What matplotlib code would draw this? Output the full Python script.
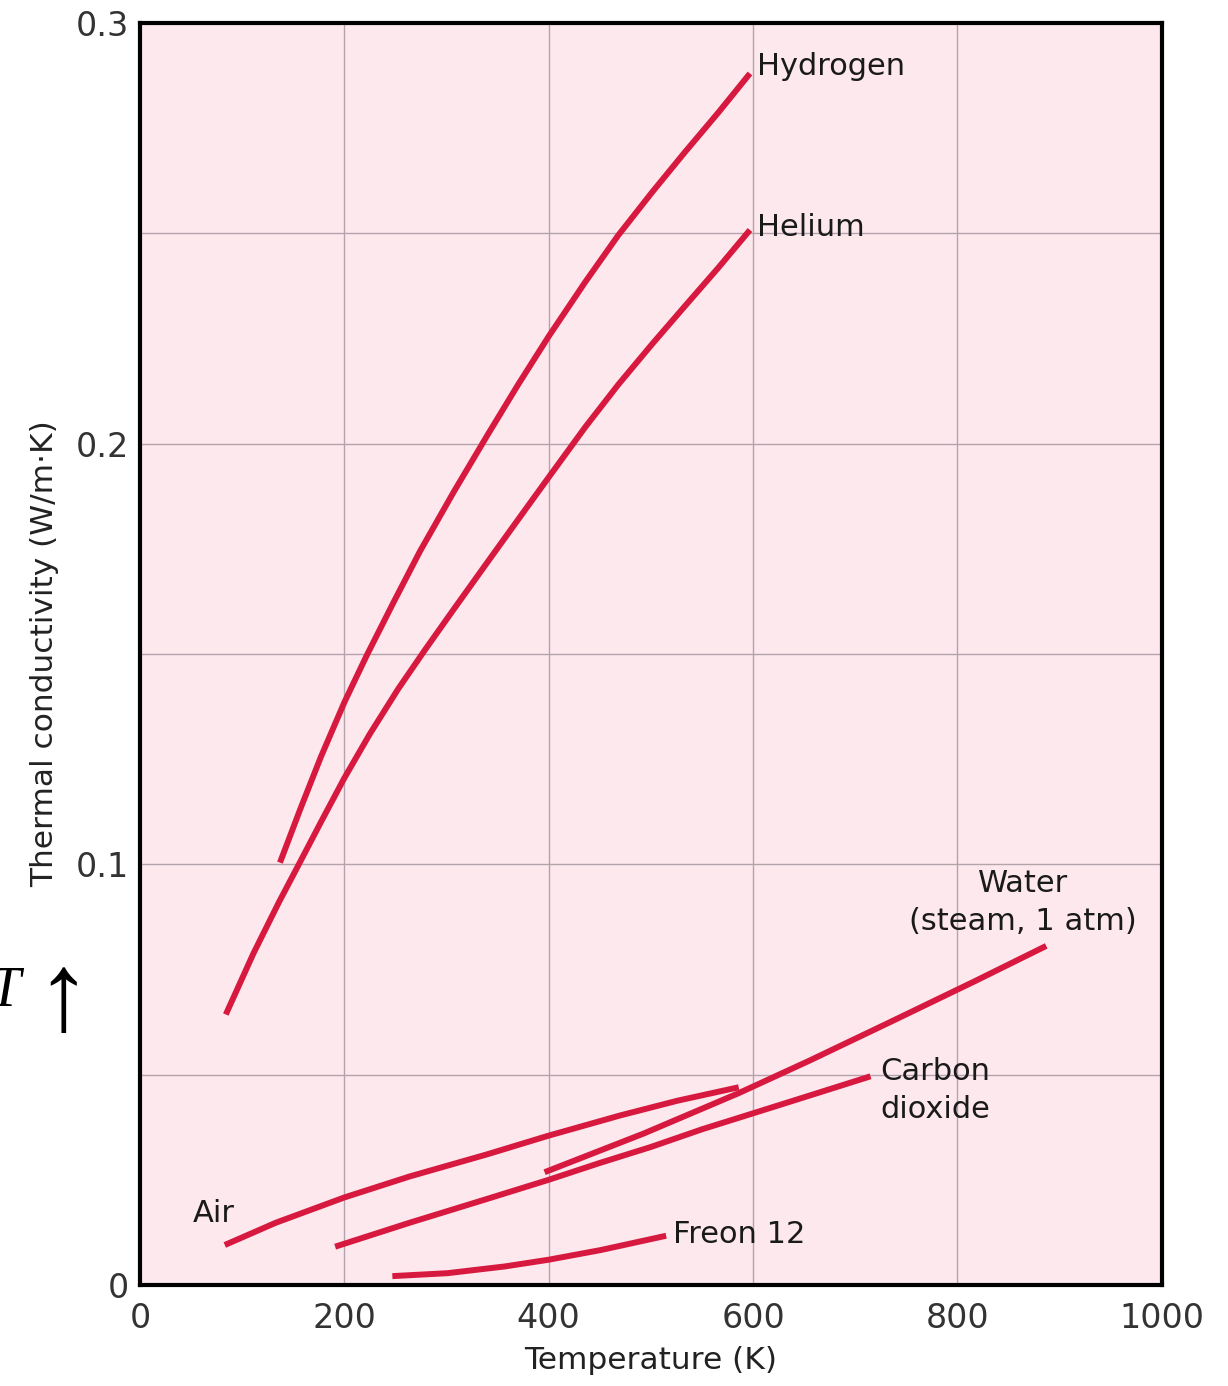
import matplotlib
matplotlib.use("Agg")
import matplotlib.pyplot as plt

# ---- data ----
hydrogen_T = [137, 157, 177, 200, 222, 248, 274, 307, 340, 370, 400, 436, 468, 501, 533, 566, 597]
hydrogen_k = [0.1004, 0.1132, 0.1255, 0.1385, 0.1497, 0.1622, 0.1744, 0.1885, 0.2020, 0.2140,
              0.2255, 0.2385, 0.2495, 0.2597, 0.2692, 0.2787, 0.2880]

helium_T = [84, 111, 136, 157, 177, 200, 225, 253, 279, 307, 340, 372, 400, 436, 468, 501, 533, 566, 597]
helium_k = [0.0643, 0.0788, 0.0910, 0.1007, 0.1100, 0.1205, 0.1310, 0.1418, 0.1510, 0.1606,
            0.1718, 0.1826, 0.1920, 0.2040, 0.2140, 0.2236, 0.2326, 0.2418, 0.2508]

air_T = [83, 133, 200, 264, 339, 400, 470, 526, 586]
air_k = [0.0095, 0.0148, 0.0208, 0.0258, 0.0310, 0.0355, 0.0403, 0.0438, 0.0470]

co2_T = [191, 264, 339, 400, 450, 500, 550, 600, 655, 715]
co2_k = [0.0091, 0.0148, 0.0204, 0.0250, 0.0290, 0.0328, 0.0370, 0.0408, 0.0450, 0.0496]

water_T = [396, 493, 586, 655, 736, 817, 887]
water_k = [0.0268, 0.0360, 0.0456, 0.0533, 0.0627, 0.0722, 0.0806]

freon_T = [247, 301, 357, 400, 451, 515]
freon_k = [0.0021, 0.0028, 0.0044, 0.0060, 0.0083, 0.0117]

x_ticks = [0, 200, 400, 600, 800, 1000]
x_ticklabels = ["0", "200", "400", "600", "800", "1000"]
y_ticks = [0, 0.1, 0.2, 0.3]
y_ticklabels = ["0", "0.1", "0.2", "0.3"]

# ---- style ----
plt.rcParams["font.family"] = ["DejaVu Sans"]
RED = "#d8193f"
PINK = "#fde8ee"
GRID = "#b3a3ab"

fig = plt.figure(figsize=(12.28, 13.86), dpi=100)
ax = fig.add_axes([0.114, 0.0729, 0.832, 0.9105])
ax.set_facecolor(PINK)
ax.set_xlim(0, 1000)
ax.set_ylim(0, 0.3)

ax.set_xticks(x_ticks)
ax.set_xticklabels(x_ticklabels)
ax.set_yticks(y_ticks)
ax.set_yticklabels(y_ticklabels)
ax.set_yticks([0.05, 0.15, 0.25], minor=True)
ax.grid(True, which="both", color=GRID, linewidth=1.0)
ax.set_axisbelow(True)
ax.tick_params(which="both", length=0, labelsize=24, colors="#333333")
ax.tick_params(axis="y", pad=8)
ax.tick_params(axis="x", pad=12)

for s in ax.spines.values():
    s.set_linewidth(3)
    s.set_color("black")

lw = 4.3
series = [(hydrogen_T, hydrogen_k), (helium_T, helium_k), (air_T, air_k),
          (co2_T, co2_k), (water_T, water_k), (freon_T, freon_k)]
for T, k in series:
    ax.plot(T, k, color=RED, linewidth=lw, solid_capstyle="butt", solid_joinstyle="round")

# labels
tk = dict(fontsize=22, color="#1a1a1a")
ax.text(604, 0.2897, "Hydrogen", ha="left", va="center", **tk)
ax.text(604, 0.2515, "Helium", ha="left", va="center", **tk)
ax.text(864, 0.0910, "Water\n(steam, 1 atm)", ha="center", va="center", linespacing=1.4, **tk)
ax.text(725, 0.0462, "Carbon\ndioxide", ha="left", va="center", linespacing=1.4, **tk)
ax.text(72, 0.0170, "Air", ha="center", va="center", **tk)
ax.text(522, 0.0119, "Freon 12", ha="left", va="center", **tk)

ax.set_xlabel("Temperature (K)", fontsize=22.5, color="#222222", labelpad=8)
ax.set_ylabel("Thermal conductivity (W/m\u00b7K)", fontsize=22.5, color="#222222", labelpad=12)

# stray text at the left edge of the source image
fig.text(0.004, 0.284, "T", fontsize=40, family=["Liberation Serif", "DejaVu Serif"],
         style="italic", ha="center", va="center", color="black")
fig.text(0.051, 0.2765, "\u2191", fontsize=80, family=["Liberation Serif", "DejaVu Serif"],
         ha="center", va="center", color="black")

fig.savefig("out.png", dpi=100)
